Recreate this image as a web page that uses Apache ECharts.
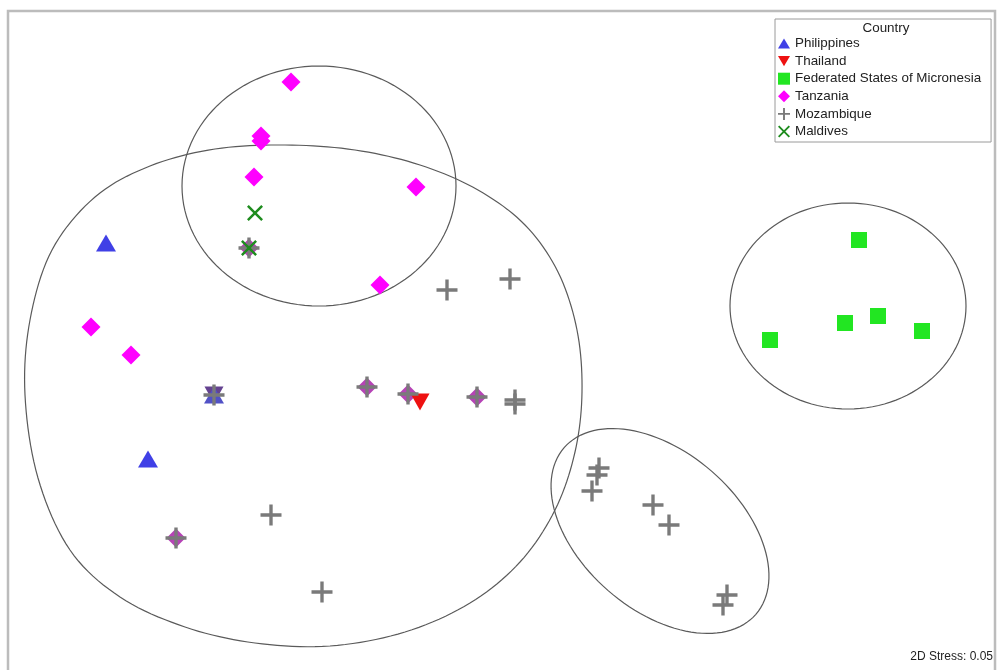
<!DOCTYPE html>
<html><head><meta charset="utf-8">
<script src="https://cdn.jsdelivr.net/npm/echarts@6/dist/echarts.min.js"></script>
<style>html,body{margin:0;padding:0;background:#fff}#c{width:998px;height:670px}</style>
</head><body><div id="c"></div>
<script>
// ---- data (MDS ordination coordinates, plot units) ----
const countries = ['Philippines','Thailand','Federated States of Micronesia','Tanzania','Mozambique','Maldives'];
const philippines = [[106,243],[148,459],[214,395]];
const thailand = [[420,402],[214,395]];
const micronesia = [[859,240],[845,323],[878,316],[922,331],[770,340]];
const tanzania = [[291,82],[261,136],[261,141],[254,177],[416,187],[380,285],[91,327],[131,355],[367,387],[408,394],[477,397],[176,538],[249,248]];
const mozambique = [[447,290],[510,279],[515,400],[515,404],[271,515],[322,592],[214,395],[367,387],[408,394],[477,397],[176,538],[249,248],[599,468],[597,475],[592,491],[653,505],[669,525],[727,595],[723,605]];
const maldives = [[255,213],[249,248]];
// cluster outlines: [centreX, centreY, radiusX, radiusY, tilt°]
const clusterEllipses = [[319,186,137,120,0],[848,306,118,103,0],[660,531,127,79,41]];
const bigCluster = [[25,395],[30,320],[52,250],[95,197],[150,166],[215,149],[285,145],[355,150],[420,165],[478,190],[525,225],[558,272],[577,330],[582,392],[575,452],[555,510],[520,562],[470,603],[405,632],[330,646],[255,643],[185,627],[120,597],[70,550],[38,478]];
const legendTitle = 'Country';
const stressLabel = '2D Stress: 0.05';

const colors = {
  'Philippines':'#4040e6','Thailand':'#ee1111','Federated States of Micronesia':'#22e622',
  'Tanzania':'#ff00ff','Mozambique':'#7a7a7a','Maldives':'#1e8c1e'
};
const PLUS = 'path://M0,8.4H20V11.6H0Z M8.4,0H11.6V20H8.4Z';
const XMARK = 'path://M2.2,0L10,7.8L17.8,0L20,2.2L12.2,10L20,17.8L17.8,20L10,12.2L2.2,20L0,17.8L7.8,10L0,2.2Z';
const UP = 'path://M10,0L20,17H0Z';
const DOWN = 'path://M0,0H20L10,17Z';

function rgb(c){ return [1,3,5].map(i=>parseInt(c.substr(i,2),16)); }
function mix(c1, c2, t){ const a=rgb(c1), b=rgb(c2); return 'rgb('+a.map((v,i)=>Math.round(v*(1-t)+b[i]*t)).join(',')+')'; }
const near = (arr,p)=>arr.some(q=>Math.abs(q[0]-p[0])<1 && Math.abs(q[1]-p[1])<1);
// overlapping samples: blend the marker colour with coincident samples
function filledItems(name, pts){
  return pts.map(p=>{
    let col = colors[name], changed=false;
    if(name==='Thailand' && near(philippines,p)){ col = mix(col, colors['Philippines'], 0.7); changed=true; }
    if(near(mozambique,p)){ col = mix(changed?'#5a2a9a':col, colors['Mozambique'], name==='Tanzania'?0.55:0.3); changed=true; }
    return changed ? {value:p, itemStyle:{color:col}} : {value:p};
  });
}
// closed Catmull-Rom curve through outline points (pixel space)
function closedSpline(P, n){
  const out=[], L=P.length;
  for(let i=0;i<L;i++){
    const p0=P[(i-1+L)%L], p1=P[i], p2=P[(i+1)%L], p3=P[(i+2)%L];
    for(let k=0;k<n;k++){
      const t=k/n, t2=t*t, t3=t2*t;
      out.push([0,1].map(d=>0.5*((2*p1[d])+(-p0[d]+p2[d])*t+(2*p0[d]-5*p1[d]+4*p2[d]-p3[d])*t2+(-p0[d]+3*p1[d]-3*p2[d]+p3[d])*t3)));
    }
  }
  return out;
}

const chart = echarts.init(document.getElementById('c'), null, {renderer:'canvas'});
const sc = (name, data, extra) => Object.assign({
  type:'scatter', name, data, itemStyle:{color:colors[name], opacity:1}, z:3, silent:true
}, extra);
const legendIcons = {'Philippines':UP,'Thailand':DOWN,'Federated States of Micronesia':'rect','Tanzania':'diamond','Mozambique':PLUS,'Maldives':XMARK};

chart.setOption({
  animation:false,
  grid:{left:0,right:0,top:0,bottom:0},
  xAxis:{type:'value',min:0,max:998,show:false},
  yAxis:{type:'value',min:0,max:670,inverse:true,show:false},
  legend:{
    data:countries.map(n=>({name:n, icon:legendIcons[n]})), orient:'vertical', left:775, top:19,
    itemWidth:12, itemHeight:12, itemGap:4.6,
    padding:[18,10,4,3], borderColor:'#9a9a9a', borderWidth:1,
    textStyle:{fontSize:13.4, fontFamily:'Liberation Sans, Arial', color:'#222', lineHeight:12},
    selectedMode:false
  },
  graphic:[
    {type:'rect', z:0, shape:{x:8,y:11,width:987,height:700}, style:{fill:'none', stroke:'#bcbcbc', lineWidth:2.5}},
    {type:'text', z:10, x:886, y:28, style:{text:legendTitle, fontSize:13.4, fontFamily:'Liberation Sans, Arial', fill:'#222', align:'center', verticalAlign:'middle'}},
    {type:'text', z:10, x:993, y:657, style:{text:stressLabel, fontSize:12, fontFamily:'Liberation Sans, Arial', fill:'#222', align:'right', verticalAlign:'middle'}}
  ],
  series:[
    {type:'custom', silent:true, z:1, data:clusterEllipses,
     renderItem(params, api){
       const c = api.coord([api.value(0), api.value(1)]);
       const s = api.size([api.value(2), api.value(3)]);
       const ang = api.value(4)*Math.PI/180;
       const pts=[];
       for(let i=0;i<120;i++){
         const t=i/120*2*Math.PI, x=s[0]*Math.cos(t), y=s[1]*Math.sin(t);
         pts.push([c[0]+x*Math.cos(ang)-y*Math.sin(ang), c[1]+x*Math.sin(ang)+y*Math.cos(ang)]);
       }
       return {type:'polygon', shape:{points:pts}, style:{fill:'none', stroke:'#5a5a5a', lineWidth:1.2}};
     }},
    {type:'custom', silent:true, z:1, data:[0],
     renderItem(params, api){
       const pts = closedSpline(bigCluster.map(p=>api.coord(p)), 10);
       return {type:'polygon', shape:{points:pts}, style:{fill:'none', stroke:'#5a5a5a', lineWidth:1.2}};
     }},
    sc('Tanzania', filledItems('Tanzania', tanzania), {symbol:'diamond', symbolSize:19}),
    sc('Thailand', filledItems('Thailand', thailand), {symbol:DOWN, symbolSize:[19,17]}),
    sc('Philippines', filledItems('Philippines', philippines), {symbol:UP, symbolSize:[20,17]}),
    sc('Federated States of Micronesia', filledItems('Federated States of Micronesia', micronesia), {symbol:'rect', symbolSize:16}),
    sc('Mozambique', mozambique, {symbol:PLUS, symbolSize:21, z:4}),
    sc('Maldives', maldives, {symbol:XMARK, symbolSize:16, z:5})
  ]
});
</script></body></html>
